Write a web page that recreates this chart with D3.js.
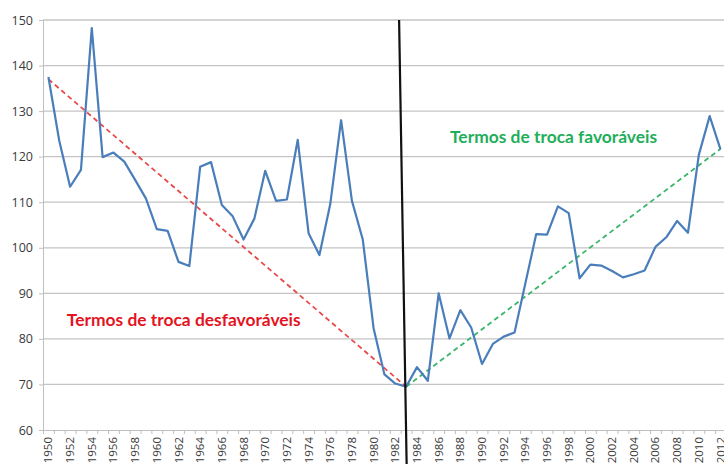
<!DOCTYPE html>
<html>
<head>
  <meta charset="UTF-8">
  <title>Termos de troca</title>
  <style>
    body {
      margin: 0;
      background-color: #fff;
      font-family: "Open Sans", "Noto Sans", sans-serif;
    }
    svg { display: block; }
    .axis text { fill: #3a3a3a; }
    .axis path, .axis line { stroke: #bfbfbf; }
    .grid line { stroke: #c4c4c4; stroke-width: 1.3; }
    .label { font-family: Lato, "Open Sans", sans-serif; font-weight: 700; }
  </style>
</head>
<body>
<svg></svg>
<script src="https://d3js.org/d3.v7.min.js"></script>
<script>

// data
let years = [1950, 1951, 1952, 1953, 1954, 1955, 1956, 1957, 1958, 1959,
  1960, 1961, 1962, 1963, 1964, 1965, 1966, 1967, 1968, 1969,
  1970, 1971, 1972, 1973, 1974, 1975, 1976, 1977, 1978, 1979,
  1980, 1981, 1982, 1983, 1984, 1985, 1986, 1987, 1988, 1989,
  1990, 1991, 1992, 1993, 1994, 1995, 1996, 1997, 1998, 1999,
  2000, 2001, 2002, 2003, 2004, 2005, 2006, 2007, 2008, 2009,
  2010, 2011, 2012];

let values = [137.5, 123.5, 113.4, 117.1, 148.2, 119.9, 120.9, 118.9, 114.9, 110.8,
  104.1, 103.7, 96.9, 96.0, 117.8, 118.8, 109.4, 106.9, 101.8, 106.4,
  116.9, 110.3, 110.6, 123.7, 103.2, 98.4, 109.6, 128.0, 110.3, 101.8,
  82.3, 72.2, 70.2, 69.5, 73.8, 70.8, 90.0, 80.1, 86.3, 82.5,
  74.5, 78.9, 80.5, 81.4, 92.2, 103.0, 102.9, 109.1, 107.6, 93.3,
  96.3, 96.1, 94.9, 93.5, 94.2, 95.0, 100.2, 102.3, 105.9, 103.3,
  120.4, 128.9, 121.6];

let yTicks = [60, 70, 80, 90, 100, 110, 120, 130, 140, 150];

// year labels shown (every other year)
let yearLabels = [1950, 1952, 1954, 1956, 1958, 1960, 1962, 1964, 1966, 1968,
  1970, 1972, 1974, 1976, 1978, 1980, 1982, 1984, 1986, 1988, 1990, 1992,
  1994, 1996, 1998, 2000, 2002, 2004, 2006, 2008, 2010, 2012];

// trend lines (start / end)
let unfavTrend = [{year: 1950, value: 137}, {year: 1983, value: 69.5}];
let favTrend = [{year: 1983, value: 69.5}, {year: 2012, value: 121.7}];

// vertical divider drawn by hand
let divider = [{year: 1982.35, value: 150}, {year: 1983.05, value: 52}];

// annotations
let unfavText = {text: "Termos de troca desfavoráveis", year: 1951.7, value: 82.8};
let favText = {text: "Termos de troca favoráveis", year: 1987.05, value: 122.9};

//dimensions
let width = 724, height = 464;
let plotLeft = 43, plotTop = 20, plotBottom = 430, step = 10.84;

let svg = d3.select("svg")
    .attr("width", width)
    .attr("height", height);

let x = d3.scaleLinear()
    .domain([years[0] - 0.5, years[years.length - 1] + 0.5])
    .range([plotLeft, plotLeft + years.length * step]);

let y = d3.scaleLinear()
    .domain([60, 150])
    .range([plotBottom, plotTop]);

// gridlines
svg.append("g")
    .attr("class", "grid")
    .selectAll("line")
    .data(yTicks.slice(1))
    .enter()
    .append("line")
    .attr("x1", plotLeft)
    .attr("x2", width)
    .attr("y1", d => y(d))
    .attr("y2", d => y(d));

// y axis
svg.append("g")
    .attr("class", "axis")
    .attr("transform", `translate(${plotLeft},0)`)
    .call(d3.axisLeft(y).tickValues(yTicks).tickSize(4).tickSizeOuter(0))
    .call(g => g.selectAll("text")
        .attr("x", -10)
        .style("font-size", "12.5px")
        .style("font-family", "\"Open Sans\", sans-serif"));

// x axis: ticks between categories
let bounds = years.map(d => d - 0.5).concat([years[years.length - 1] + 0.5]);
svg.append("g")
    .attr("class", "axis")
    .attr("transform", `translate(0,${plotBottom})`)
    .call(d3.axisBottom(x).tickValues(bounds).tickSize(4).tickSizeOuter(0).tickFormat(""));

// rotated year labels
svg.append("g")
    .attr("class", "axis")
    .selectAll("text")
    .data(yearLabels)
    .enter()
    .append("text")
    .attr("transform", d => `translate(${x(d)},${plotBottom + 7}) rotate(-90)`)
    .attr("dy", "0.35em")
    .attr("text-anchor", "end")
    .style("font-size", "11.5px")
    .text(d => d);

let line = d3.line()
    .x(d => x(d.year))
    .y(d => y(d.value));

// trend lines
svg.append("path")
    .datum(unfavTrend)
    .attr("d", line)
    .attr("fill", "none")
    .attr("stroke", "#e84a4a")
    .attr("stroke-width", 1.8)
    .attr("stroke-dasharray", "5,3.5");

svg.append("path")
    .datum(favTrend)
    .attr("d", line)
    .attr("fill", "none")
    .attr("stroke", "#3bb56a")
    .attr("stroke-width", 1.8)
    .attr("stroke-dasharray", "5,3.5");

// main series
let series = years.map((d, i) => ({year: d, value: values[i]}));
svg.append("path")
    .datum(series)
    .attr("d", line)
    .attr("fill", "none")
    .attr("stroke", "#4a7ebb")
    .attr("stroke-width", 2.2)
    .attr("stroke-linejoin", "round");

// divider
svg.append("path")
    .datum(divider)
    .attr("d", line)
    .attr("stroke", "#111")
    .attr("stroke-width", 2.2);

// labels
svg.append("text")
    .attr("class", "label")
    .attr("x", x(unfavText.year))
    .attr("y", y(unfavText.value))
    .attr("fill", "#e3141f")
    .style("font-size", "17.4px")
    .text(unfavText.text);

svg.append("text")
    .attr("class", "label")
    .attr("x", x(favText.year))
    .attr("y", y(favText.value))
    .attr("fill", "#1fae5a")
    .style("font-size", "17.4px")
    .text(favText.text);

</script>
</body>
</html>
